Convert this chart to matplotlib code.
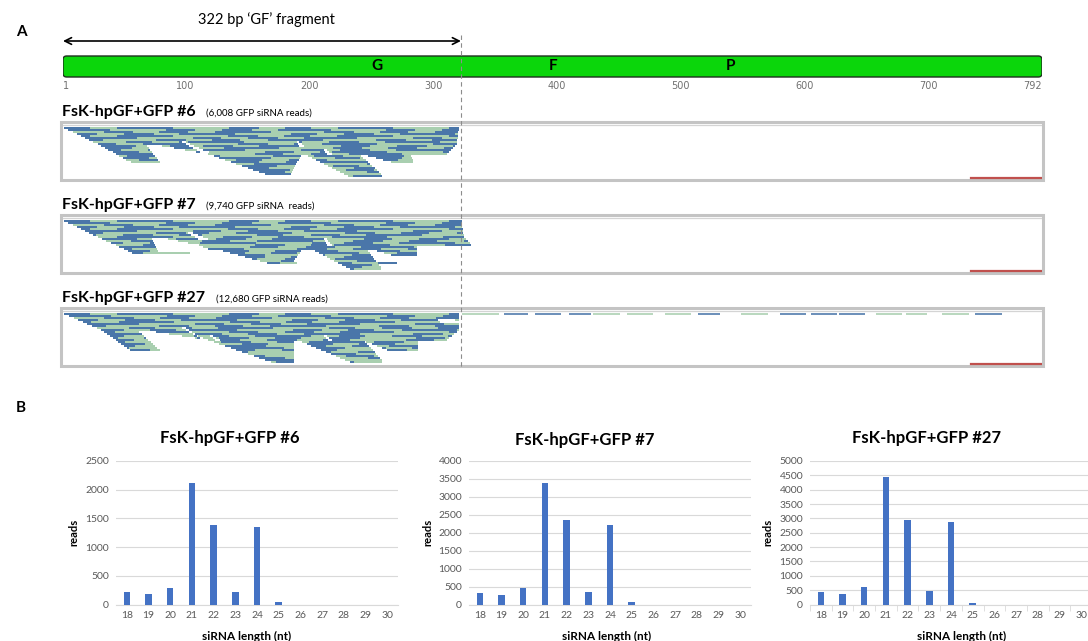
import matplotlib
matplotlib.use("Agg")
import matplotlib.pyplot as plt
from matplotlib.patches import FancyBboxPatch, Rectangle

plt.rcParams['font.family'] = ['Lato', 'DejaVu Sans']

W, H = 1088, 641

# ---------------- panel A data ----------------
gene_len = 792
fragment_end = 322
scale_ticks = [1, 100, 200, 300, 400, 500, 600, 700, 792]
gene_labels = ['G', 'F', 'P']
gene_label_pos = [255, 397, 540]

samples = ['FsK-hpGF+GFP #6', 'FsK-hpGF+GFP #7', 'FsK-hpGF+GFP #27']
read_notes = ['(6,008 GFP siRNA reads)', '(9,740 GFP siRNA  reads)', '(12,680 GFP siRNA reads)']
note_x = [206, 206, 216]

# pileup silhouettes:
# (row_top, row_bottom, left_top, left_bottom, right_top, right_bottom) in rows / nt
tongues_6 = [(0, 8, 2, 29, 321, 319), (8, 17, 29, 55, 68, 79), (8, 13, 72, 118, 319, 311),
             (13, 23, 118, 164, 194, 185), (13, 24, 196, 231, 240, 260), (13, 17, 241, 266, 282, 284)]
holes_6 = [(7, 12, 97, 112, 100, 118), (11, 13, 212, 214, 214, 218), (7, 9, 190, 192, 192, 196)]

tongues_7 = [(0, 8, 2, 29, 323, 325), (8, 16, 29, 57, 72, 79), (16, 16, 78, 78, 104, 104),
             (8, 12, 78, 110, 325, 331), (12, 14, 110, 118, 287, 287), (13, 21, 118, 166, 196, 186),
             (21, 21, 166, 166, 190, 190), (13, 24, 198, 233, 245, 259), (21, 21, 255, 255, 271, 271),
             (13, 17, 244, 266, 287, 287)]
holes_7 = [(6, 9, 102, 110, 106, 118), (9, 12, 212, 214, 214, 218)]

tongues_27 = [(0, 8, 2, 32, 321, 321), (8, 18, 32, 55, 61, 79), (8, 13, 66, 118, 321, 311),
              (13, 24, 118, 169, 188, 188), (13, 24, 190, 233, 244, 260), (13, 18, 242, 263, 288, 288)]
holes_27 = [(7, 12, 97, 112, 100, 113), (11, 13, 212, 215, 214, 218), (3, 4, 304, 306, 318, 320),
            (11, 13, 120, 124, 122, 128)]

# sparse reads beyond the GF fragment in #27 (start, end, strand)
extra_27 = [(323, 353, 'g'), (357, 377, 'b'), (382, 403, 'b'), (410, 428, 'b'), (429, 451, 'g'),
            (457, 478, 'g'), (487, 508, 'g'), (514, 532, 'b'), (549, 571, 'g'), (580, 601, 'b'),
            (605, 626, 'b'), (628, 649, 'b'), (658, 679, 'g'), (682, 699, 'g'), (711, 733, 'g'),
            (738, 760, 'b')]

# ---------------- panel B data ----------------
lengths = list(range(18, 31))
reads_6 = [220, 186, 290, 2123, 1392, 226, 1357, 41, 0, 0, 0, 0, 0]
reads_7 = [307, 260, 465, 3376, 2344, 335, 2214, 65, 0, 0, 0, 0, 0]
reads_27 = [441, 371, 603, 4443, 2935, 464, 2888, 58, 0, 0, 0, 0, 0]

BLUE = '#4a76a9'
GREEN = '#a9cfb0'
BAR = '#4472c4'

fig = plt.figure(figsize=(W / 100, H / 100), dpi=100)


def ftext(x, y, s, **kw):
    fig.text(x / W, 1 - y / H, s, **kw)


# panel A axes: x in nt, y in figure pixels
axA = fig.add_axes([63 / W, 0, 979 / W, 1])
axA.set_xlim(1, gene_len)
axA.set_ylim(H, 0)
axA.axis('off')

ftext(16, 32, 'A', fontsize=11, fontweight='bold', va='center')
ftext(16, 408, 'B', fontsize=11, fontweight='bold', va='center')

axA.annotate('', xy=(1, 41), xytext=(fragment_end + 0.5, 41),
             arrowprops=dict(arrowstyle='<->', lw=1.2, color='black', shrinkA=0, shrinkB=0,
                             mutation_scale=12))
axA.text(165, 20, '322 bp \u2018GF\u2019 fragment', fontsize=10.5, ha='center', va='center')

gene = FancyBboxPatch((1, 56), gene_len - 1, 21, boxstyle='round,pad=0,rounding_size=3',
                      mutation_aspect=1.2, facecolor='#0bd60b', edgecolor='#1f2f1f', lw=1.0,
                      zorder=3)
axA.add_patch(gene)
for lab, pos in zip(gene_labels, gene_label_pos):
    axA.text(pos, 66, lab, fontsize=11, fontweight='bold', ha='center', va='center', zorder=4)
for t in scale_ticks:
    ha = 'left' if t == 1 else ('right' if t == gene_len else 'center')
    axA.text(t, 86, str(t), fontsize=7, color='#707070', ha=ha, va='center',
             family='DejaVu Sans')

axA.plot([fragment_end + 0.5] * 2, [35, 368], ls=(0, (4, 3)), color='#8c8c8c', lw=0.8, zorder=5)


def covered(tongues, holes, r):
    iv = []
    for rt, rb, lt, lb, ut, ub in tongues:
        if rt <= r <= rb:
            f = 0 if rb == rt else (r - rt) / (rb - rt)
            iv.append([lt + f * (lb - lt), ut + f * (ub - ut)])
    iv.sort()
    merged = []
    for a, b in iv:
        if merged and a <= merged[-1][1]:
            merged[-1][1] = max(merged[-1][1], b)
        else:
            merged.append([a, b])
    for rt, rb, lt, lb, ut, ub in holes:
        if rt <= r <= rb:
            f = 0 if rb == rt else (r - rt) / (rb - rt)
            ha, hb = lt + f * (lb - lt), ut + f * (ub - ut)
            out = []
            for a, b in merged:
                if hb <= a or ha >= b:
                    out.append([a, b])
                else:
                    if ha > a:
                        out.append([a, ha])
                    if hb < b:
                        out.append([hb, b])
            merged = out
    return merged


read_lens = [21, 22, 24, 21, 23, 22, 24, 21]
strand = [BLUE, GREEN, BLUE, BLUE, GREEN, GREEN, BLUE, GREEN]

box_tops = [122, 215, 308]
box_h = 58
panels = [(tongues_6, holes_6, []), (tongues_7, holes_7, []), (tongues_27, holes_27, extra_27)]
for k, (tg, hl, extra) in enumerate(panels):
    top = box_tops[k]
    ftext(62, top - 10, samples[k], fontsize=11.5, fontweight='bold', va='center')
    ftext(note_x[k], top - 9, read_notes[k], fontsize=7, va='center')
    axA.add_patch(Rectangle((-0.3, top), gene_len + 0.9, box_h, fill=False,
                            edgecolor='#c4c4c4', lw=2.2, clip_on=False, zorder=2))
    axA.plot([0.5, gene_len], [top + 3.2, top + 3.2], color='#d4d4d4', lw=0.9, zorder=2)
    axA.plot([735, gene_len], [top + box_h - 2.5] * 2, color='#c0504d', lw=1.6, zorder=3)
    y0 = top + 5
    bars = {BLUE: [], GREEN: []}
    n = 0
    for r in range(25):
        for a, b in covered(tg, hl, r):
            pos = a - (r * 9) % 22
            while pos < b:
                L = read_lens[(n + r) % len(read_lens)]
                s, e = max(pos, a), min(pos + L, b)
                if e - s > 1:
                    bars[strand[(n + 3 * r) % len(strand)]].append((r, s, e - s))
                pos += L
                n += 1
    for col, lst in bars.items():
        for r, s, w in lst:
            axA.broken_barh([(s, w)], (y0 + r * 2.0, 1.9), facecolors=col, zorder=1)
    for s, e, c in extra:
        axA.broken_barh([(s, e - s)], (y0, 1.6), facecolors=BLUE if c == 'b' else GREEN,
                        alpha=0.8, zorder=1)

# ---------------- panel B ----------------
charts = [(reads_6, 2500, 500, 116, samples[0], (230, 438), 74, 247),
          (reads_7, 4000, 500, 469, samples[1], (585, 440), 428, 607),
          (reads_27, 5000, 500, 810, samples[2], (927, 438), 768, 962)]
x = list(range(len(lengths)))
for i, (vals, ymax, step, left, title, tpos, ylx, xlx) in enumerate(charts):
    ax = fig.add_axes([left / W, 1 - 604.5 / H, 282 / W, 143.5 / H])
    ax.bar(x, vals, width=0.3, color=BAR, zorder=3)
    ax.set_xlim(-0.5, len(lengths) - 0.5)
    ax.set_ylim(0, ymax)
    ax.set_yticks(range(0, ymax + 1, step))
    ax.set_xticks(x)
    ax.set_xticklabels([str(v) for v in lengths])
    ax.yaxis.grid(True, color='#d9d9d9', lw=0.8, zorder=0)
    for sp in ['top', 'right', 'left']:
        ax.spines[sp].set_visible(False)
    ax.spines['bottom'].set_color('#d9d9d9')
    ax.tick_params(axis='both', length=0, labelsize=7.5, labelcolor='#595959', pad=5)
    if i == 2:
        ax.set_xticks([v + 0.5 for v in x[:-1]] + [-0.5], minor=True)
        ax.tick_params(axis='x', which='minor', length=4, color='#d9d9d9')
    ftext(tpos[0], tpos[1], title, fontsize=12, fontweight='bold', ha='center', va='center')
    ftext(ylx, 532, 'reads', fontsize=8, fontweight='bold', rotation=90, ha='center', va='center')
    ftext(xlx, 636, 'siRNA length (nt)', fontsize=8.5, fontweight='bold', ha='center', va='center')

fig.savefig('out.png', dpi=100)
